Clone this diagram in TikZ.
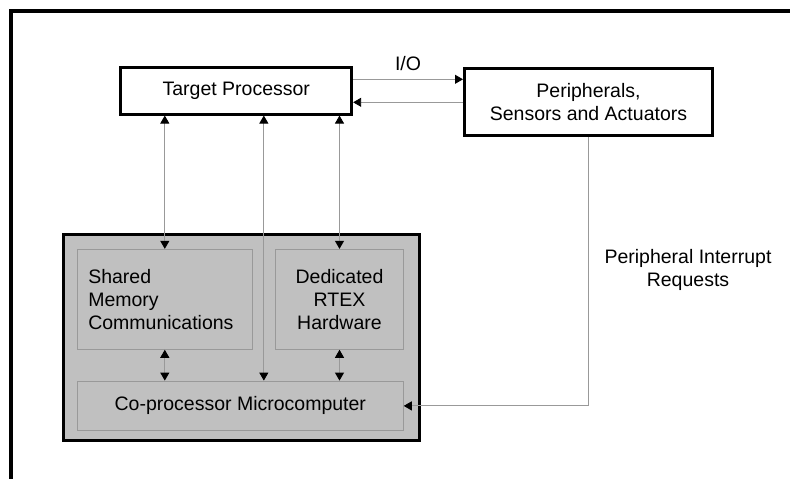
\documentclass[tikz,border=0pt]{standalone}
\usepackage{fontspec}
\setmainfont{Liberation Sans}
\usetikzlibrary{arrows.meta,calc,positioning}
\definecolor{boardgray}{HTML}{C0C0C0}
\definecolor{wiregray}{HTML}{999999}
\tikzset{>={Triangle[length=8pt,width=9pt,color=black]}}
\tikzset{
	blockbox/.style={
	 rectangle, draw, line width=3pt, fill=white,
	 inner sep=0pt, align=center
	},
	subbox/.style={
	 rectangle, draw=wiregray, line width=0.9pt, fill=boardgray,
	 inner sep=0pt, align=center
	},
	wire/.style={draw=wiregray, line width=0.9pt}
}
\newcommand{\lbl}{\fontsize{19.5}{23}\selectfont}

\begin{document}
\begin{tikzpicture}[x=1pt,y=-1pt,font=\lbl]
\useasboundingbox (0,0) rectangle (790,479);

% frame
\draw[line width=3.5pt] (11,479) -- (11,11) -- (790,11);

\node[blockbox,minimum width=230.7pt,minimum height=46.5pt] (TP) at (236.3,90.8) {Target Processor};
\node[blockbox,minimum width=248pt,minimum height=67.5pt] (PSA) at (588.5,101.8) {Peripherals,\\Sensors and Actuators};

\node[blockbox,fill=boardgray,minimum width=355.5pt,minimum height=206.5pt] (CP) at (241.3,337.3) {};
\node[subbox,minimum width=175pt,minimum height=100pt,text width=153pt,align=left] (SMC) at (164.8,299.3) {Shared\\Memory\\Communications};
\node[subbox,minimum width=127.6pt,minimum height=100pt] (RTEX) at (339.5,299.3) {Dedicated\\RTEX\\Hardware};
\node[subbox,minimum width=326pt,minimum height=49.7pt] (MC) at (240.3,405.9) {Co-processor Microcomputer};
\coordinate (MCin) at ($(MC.north west)!0.572!(MC.north east)$);

% I/O
\draw[wire,->] ([yshift=11.5pt]TP.east) -- ([yshift=11.5pt]TP.east -| PSA.west)
	node[midway,above=5pt] (io) {I/O};
\draw[wire,->] ([yshift=-11.5pt]TP.east -| PSA.west) -- ([yshift=-11.5pt]TP.east);

% target <-> co-processor
\draw[wire,<->] (TP.south -| SMC.north) -- (SMC.north);
\draw[wire,<->] (TP.south -| MCin) -- (MCin);
\draw[wire,<->] (TP.south -| RTEX.north) -- (RTEX.north);
\draw[wire,<->] (SMC.south) -- (SMC.south |- MC.north);
\draw[wire,<->] (RTEX.south) -- (RTEX.south |- MC.north);

% interrupts
\draw[wire,->] (PSA.south) -- (PSA.south |- MC.east) -- (MC.east);
\node[align=center] (irq) at (688,270) {Peripheral Interrupt\\Requests};

\end{tikzpicture}
\end{document}
